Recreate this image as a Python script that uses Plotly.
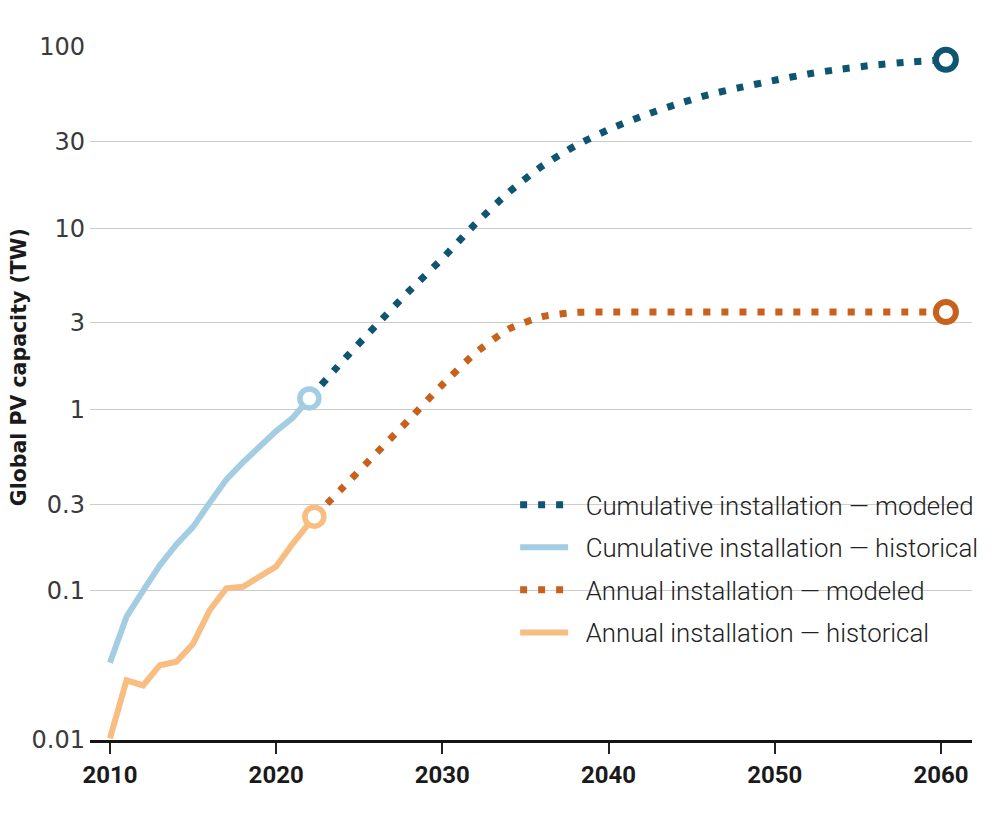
import plotly.graph_objects as go

# ---------------- data ----------------
cum_hist_years = [2010, 2011, 2012, 2013, 2014, 2015, 2016, 2017, 2018, 2019, 2020, 2021, 2022]
cum_hist_tw = [0.040, 0.072, 0.100, 0.138, 0.180, 0.225, 0.305, 0.41, 0.51, 0.63, 0.76, 0.90, 1.15]

ann_hist_years = [2010, 2011, 2012, 2013, 2014, 2015, 2016, 2017, 2018, 2019, 2020, 2021, 2022.3]
ann_hist_tw = [0.0153, 0.032, 0.030, 0.0388, 0.0405, 0.051, 0.078, 0.103, 0.105, 0.119, 0.136, 0.182, 0.256]

cum_model_years = [2022, 2024, 2026, 2028, 2030, 2032, 2034, 2036, 2038, 2040,
                   2042, 2044, 2046, 2048, 2050, 2052, 2054, 2056, 2058, 2060.3]
cum_model_tw = [1.15, 1.85, 2.9, 4.5, 6.8, 10.6, 15.8, 22.0, 28.5, 35.0,
                41.5, 48.0, 54.5, 60.0, 65.5, 71.0, 75.5, 79.5, 82.5, 85.0]

ann_model_years = [2022.3, 2024, 2026, 2028, 2030, 2032, 2034, 2036, 2038, 2040,
                   2045, 2050, 2055, 2060.3]
ann_model_tw = [0.256, 0.37, 0.57, 0.88, 1.37, 2.05, 2.78, 3.25, 3.43, 3.45,
                3.45, 3.45, 3.45, 3.45]

x_ticks = [2010, 2020, 2030, 2040, 2050, 2060]
y_ticks = [0.015, 0.1, 0.3, 1, 3, 10, 30, 100]
y_tick_text = ["0.01", "0.1", "0.3", "1", "3", "10", "30", "100"]

legend_names = [
    "Cumulative installation \u2014 modeled",
    "Cumulative installation \u2014 historical",
    "Annual installation \u2014 modeled",
    "Annual installation \u2014 historical",
]

# ---------------- styles ----------------
C_DARK = "#0d5571"
C_LIGHT = "#a3cde3"
C_ORANGE = "#c8611b"
C_PEACH = "#f8bd80"
DOT = "7px,11px"
BOLD = "Roboto, sans-serif"
REG = "Roboto, 'Open Sans', sans-serif"
NB = "\u00a0\u00a0"

fig = go.Figure()

fig.add_trace(go.Scatter(x=cum_model_years, y=cum_model_tw, mode="lines",
                         name=NB + legend_names[0], legendgroup="a",
                         line=dict(color=C_DARK, width=7, dash=DOT, shape="spline", smoothing=0.6)))
fig.add_trace(go.Scatter(x=cum_hist_years, y=cum_hist_tw, mode="lines",
                         name=NB + legend_names[1], legendgroup="b",
                         line=dict(color=C_LIGHT, width=6)))
fig.add_trace(go.Scatter(x=ann_model_years, y=ann_model_tw, mode="lines",
                         name=NB + legend_names[2], legendgroup="c",
                         line=dict(color=C_ORANGE, width=7, dash=DOT, shape="spline", smoothing=0.6)))
fig.add_trace(go.Scatter(x=ann_hist_years, y=ann_hist_tw, mode="lines",
                         name=NB + legend_names[3], legendgroup="d",
                         line=dict(color=C_PEACH, width=6)))

# end-point circles
fig.add_trace(go.Scatter(x=[cum_hist_years[-1]], y=[cum_hist_tw[-1]], mode="markers", showlegend=False,
                         cliponaxis=False,
                         marker=dict(size=19, color="white", line=dict(color=C_LIGHT, width=5.5))))
fig.add_trace(go.Scatter(x=[ann_hist_years[-1]], y=[ann_hist_tw[-1]], mode="markers", showlegend=False,
                         cliponaxis=False,
                         marker=dict(size=19, color="white", line=dict(color=C_PEACH, width=5.5))))
fig.add_trace(go.Scatter(x=[cum_model_years[-1]], y=[cum_model_tw[-1]], mode="markers", showlegend=False,
                         cliponaxis=False,
                         marker=dict(size=20, color="white", line=dict(color=C_DARK, width=6))))
fig.add_trace(go.Scatter(x=[ann_model_years[-1]], y=[ann_model_tw[-1]], mode="markers", showlegend=False,
                         cliponaxis=False,
                         marker=dict(size=20, color="white", line=dict(color=C_ORANGE, width=6))))

fig.update_layout(
    width=1000, height=813,
    margin=dict(l=82, r=36, t=39, b=81),
    paper_bgcolor="white", plot_bgcolor="white",
    showlegend=True,
    legend=dict(x=0.482, y=0.373, xanchor="left", yanchor="top",
                bgcolor="rgba(0,0,0,0)", tracegroupgap=6,
                font=dict(family=REG, size=25.8, color="#222", weight=300),
                itemwidth=48),
    annotations=[dict(text="Global PV capacity (TW)", textangle=-90,
                      xref="paper", yref="paper", x=0, y=0.538, xshift=-71,
                      xanchor="center", yanchor="middle", showarrow=False,
                      font=dict(family="'DejaVu Sans', sans-serif", size=20.5, color="#1a1a1a",
                                weight="bold"))],
)

fig.update_xaxes(range=[2008.8, 2061.87], tickvals=x_ticks, ticks="outside", ticklen=11,
                 tickwidth=1.5, tickcolor="#222", showline=True, linewidth=3, linecolor="#151515",
                 showgrid=False, zeroline=False,
                 tickfont=dict(family=BOLD, size=24, color="#1a1a1a", weight="bold"))
fig.update_yaxes(type="log", range=[-1.824, 2.0], tickvals=y_ticks, ticktext=y_tick_text,
                 ticks="", showline=False, showgrid=True, gridcolor="#cccccc", gridwidth=1.2,
                 zeroline=False, ticklabelstandoff=4,
                 tickfont=dict(family="'DejaVu Sans', sans-serif", size=24, color="#3a3a3a"))

fig.write_html("out.html")
